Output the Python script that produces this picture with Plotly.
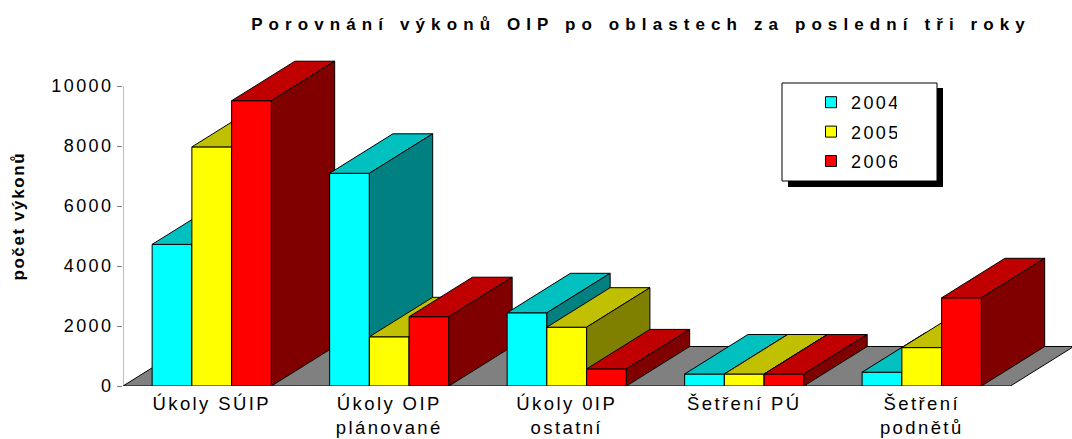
import plotly.graph_objects as go

# ---------------- data ----------------
categories = ["Úkoly SÚIP", "Úkoly OIP plánované", "Úkoly 0IP ostatní", "Šetření PÚ", "Šetření podnětů"]
tick_labels = ["Úkoly SÚIP", "Úkoly OIP<br>plánované", "Úkoly 0IP<br>ostatní", "Šetření PÚ", "Šetření<br>podnětů"]
series_names = ["2004", "2005", "2006"]
v2004 = [4720, 7090, 2440, 400, 460]
v2005 = [7970, 1640, 1960, 400, 1280]
v2006 = [9510, 2310, 570, 400, 2940]
y_ticks = [0, 2000, 4000, 6000, 8000, 10000]

# ---------------- styles ----------------
front_colors = ["#00FFFF", "#FFFF00", "#FF0000"]
top_colors = ["#00C0C0", "#C0C000", "#C00000"]
side_colors = ["#008080", "#808000", "#800000"]
FLOOR = "#808080"

W, H = 1072, 439
ML, MR, MT, MB = 123, 0, 40, 53
PX_PER_CAT = 177.5
PX_PER_1000 = 30.0
plot_w = W - ML - MR
plot_h = H - MT - MB
x_range = [-0.5, -0.5 + plot_w / PX_PER_CAT]
y_range = [0, plot_h / PX_PER_1000 * 1000]

bar_w = 39.75 / PX_PER_CAT          # width of one bar in category units
depth_x = 63.3 / PX_PER_CAT         # oblique depth, x component
depth_y = 39.5 / PX_PER_1000 * 1000 # oblique depth, y component

def px_x(p):
    return (p - ML) / plot_w

def px_y(p):
    return (H - MB - p) / plot_h

fig = go.Figure()

def poly(xs, ys, fill):
    fig.add_trace(go.Scatter(
        x=xs + [xs[0]], y=ys + [ys[0]], mode="lines", fill="toself",
        fillcolor=fill, line=dict(color="black", width=1),
        hoverinfo="skip", showlegend=False))

# floor
n = len(categories)
fx0, fx1 = -0.5, n - 0.5
poly([fx0, fx1, fx1 + depth_x, fx0 + depth_x], [0, 0, depth_y, depth_y], FLOOR)

# y axis line (0 .. 10000)
fig.add_trace(go.Scatter(x=[-0.5, -0.5], y=[y_ticks[0], y_ticks[-1]], mode="lines",
                         line=dict(color="#808080", width=1), hoverinfo="skip", showlegend=False))

series = [v2004, v2005, v2006]
for i in range(n):
    for j, vals in enumerate(series):
        h = vals[i]
        l = i - 1.5 * bar_w + j * bar_w
        r = l + bar_w
        poly([l, r, r, l], [0, 0, h, h], front_colors[j])
        poly([l, r, r + depth_x, l + depth_x], [h, h, h + depth_y, h + depth_y], top_colors[j])
        poly([r, r + depth_x, r + depth_x, r], [0, depth_y, h + depth_y, h], side_colors[j])

# legend entries
for j, name in enumerate(series_names):
    fig.add_trace(go.Scatter(
        x=[None], y=[None], mode="markers", name=name, legendgroup=name,
        marker=dict(symbol="square", size=11, color=front_colors[j],
                    line=dict(color="black", width=1))))

# legend box + shadow
shapes = [
    dict(type="rect", xref="paper", yref="paper", x0=px_x(788), x1=px_x(943),
         y0=px_y(187), y1=px_y(88), fillcolor="black", line=dict(width=0), layer="above"),
    dict(type="rect", xref="paper", yref="paper", x0=px_x(782), x1=px_x(937),
         y0=px_y(181), y1=px_y(83), fillcolor="white", line=dict(color="black", width=1), layer="above"),
]

FONT = "Liberation Sans, Arial, sans-serif"

fig.update_layout(
    width=W, height=H,
    margin=dict(l=ML, r=MR, t=MT, b=MB),
    paper_bgcolor="white", plot_bgcolor="white",
    font=dict(family=FONT, size=18, color="black"),
    title=dict(text="<b>Porovnání výkonů OIP po oblastech za poslední tři roky</b>",
               font=dict(family=FONT, size=17, color="black"),
               xref="container", x=641 / W, xanchor="center",
               yref="container", y=1 - 24 / H, yanchor="middle"),
    showlegend=True,
    legend=dict(x=px_x(811), y=px_y(84), xanchor="left", yanchor="top",
                bgcolor="rgba(0,0,0,0)", borderwidth=0, tracegroupgap=3,
                font=dict(family=FONT, size=18, color="black")),
    shapes=shapes,
    xaxis=dict(range=x_range, showgrid=False, zeroline=False, showline=False,
               tickmode="array", tickvals=list(range(n)), ticktext=tick_labels,
               ticks="", ticklabelstandoff=4,
               tickfont=dict(family=FONT, size=18.5, color="black"), fixedrange=True),
    yaxis=dict(range=y_range, showgrid=False, zeroline=False, showline=False,
               tickmode="array", tickvals=y_ticks, ticktext=[str(t) for t in y_ticks],
               ticks="outside", ticklen=5, tickcolor="#808080", tickwidth=1,
               tickfont=dict(family=FONT, size=18, color="black"), fixedrange=True),
    annotations=[dict(text="<b>počet výkonů</b>", textangle=-90, showarrow=False,
                      xref="paper", yref="paper", x=px_x(18), y=px_y(216),
                      xanchor="center", yanchor="middle",
                      font=dict(family=FONT, size=17, color="black"))],
)

css = ("body{margin:0;overflow:hidden}"
       ".main-svg text{letter-spacing:2.4px}"
       ".gtitle{letter-spacing:6.1px !important}"
       ".annotation-text{letter-spacing:1.6px !important}")
post = ("var s=document.createElement('style');s.textContent='" + css +
        "';document.head.appendChild(s);")

fig.write_html("out.html", post_script=post, config={"displayModeBar": False})
